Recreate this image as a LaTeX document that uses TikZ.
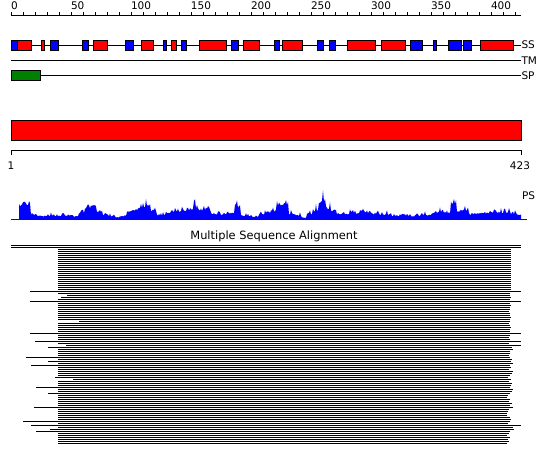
\documentclass[tikz,border=0pt]{standalone}
\usepackage{fontspec}
\setmainfont{DejaVu Sans}
\definecolor{ssred}{RGB}{255,0,0}
\definecolor{ssblue}{RGB}{0,0,255}
\definecolor{spgreen}{RGB}{0,128,0}
\begin{document}
\begin{tikzpicture}[x=1pt,y=-1pt,
  font=\fontsize{10.5}{12}\selectfont,
  lbl/.style={inner sep=0pt, outer sep=0pt},
  thin1/.style={line width=1pt, black},
  helix/.style={fill=ssred, draw=black, line width=1pt},
  strand/.style={fill=ssblue, draw=black, line width=1pt},
  msa/.style={line width=1pt, black}]
\useasboundingbox (0,0) rectangle (550,465);
\fill[white] (0,0) rectangle (550,465);

% top ruler
\draw[thin1] (11,15.5) -- (521,15.5);
\foreach \v in {0,10,...,420} \draw[thin1] ({11.5+1.2*\v},12.5) -- ({11.5+1.2*\v},15.5);
\foreach \v in {0,50,...,400} \node[lbl, anchor=base west] (r\v) at ({11+1.2*\v},10) {\v};

% SS track
\draw[thin1] (11,45.5) -- (521,45.5);
\foreach \a/\b/\c in {11/17/strand,17/31/helix,41/44/helix,50/58/strand,82/88/strand,93/107/helix,
  125/133/strand,141/153/helix,163/166/strand,171/176/helix,181/186/strand,199/226/helix,
  231/238/strand,243/259/helix,274/279/strand,282/302/helix,317/323/strand,329/335/strand,
  347/375/helix,381/405/helix,410/422/strand,433/436/strand,448/461/strand,463/471/strand,480/513/helix}
  \draw[\c] (\a,40.5) rectangle (\b,50.5);
\node[lbl, anchor=base west] (ss) at (521.5,49) {SS};

% TM track
\draw[thin1] (11,60.5) -- (521,60.5);
\node[lbl, anchor=base west] (tm) at (521.5,64.5) {TM};

% SP track
\draw[thin1] (11,75.5) -- (521,75.5);
\draw[fill=spgreen, draw=black, line width=1pt] (11,70.5) rectangle (40.5,80.5);
\node[lbl, anchor=base west] (sp) at (521.5,79.5) {SP};

% domain bar
\draw[fill=ssred, draw=black, line width=1pt] (11,120.5) rectangle (521,140.5);
\draw[thin1] (11,155) -- (11,150.5) -- (521,150.5) -- (521,155);
\node[lbl, anchor=base] (one) at (11,170) {1};
\node[lbl, anchor=base] (end) at (520,170) {423};

% PS profile
\pgfmathsetseed{11}
\def\env{{26,29,10,8,7,8,7,8,7,6,13,23,24,16,10,7,4,7,16,19,24,25,18,8,10,13,16,17,18,22,18,19,11,10,11,12,24,8,7,6,10,13,16,25,26,11,8,4,11,17,34,22,18,11,10,11,12,14,13,11,10,10,7,7,8,6,7,10,8,13,14,12,28,16,18,10,12,11,13,14,13,13,11,10}}
\fill[ssblue] (19,220) foreach \x in {19,...,521} { -- (\x,{220-\env[int((\x-19)/6)]*(0.5+0.5*rnd*rnd)}) } -- (521,220) -- cycle;
\draw[ssblue, line width=1pt] (11,219.5) -- (527,219.5);
\node[lbl, anchor=base west] (ps) at (522,200) {PS};

% MSA
\node[lbl, anchor=base, font=\fontsize{11.4}{13}\selectfont] (msatitle) at (274,240) {Multiple Sequence Alignment};
\foreach \l/\r [count=\i from 0] in {11/521, 11/521,
 58/511, 58/511, 58/511, 58/511, 58/511, 58/511, 58/511, 58/511, 58/511, 58/511, 58/511,
 58/511, 58/511, 58/511, 58/511, 58/511, 58/511, 58/511, 58/511, 58/511, 58/511,
 30/521,
 58/510, 67/510, 61/511, 58/510,
 30/521,
 58/510, 58/511, 58/510, 58/510, 58/509, 58/510, 58/510, 58/511, 58/510,
 79/510,
 58/509, 58/510, 58/511, 58/510, 58/510,
 30/521,
 58/510, 58/509, 58/510,
 35/521,
 58/509,
 66/521,
 48/512, 58/513, 58/510, 58/510, 58/509, 26/510, 58/512, 48/511, 58/513, 31/510,
 58/511, 58/509, 58/513, 58/512, 58/510, 55/508, 73/511, 58/509, 58/512, 58/511,
 36/510, 58/513, 58/512, 48/510, 58/508, 58/507, 58/510, 58/509, 58/512, 58/510,
 34/513, 58/509, 58/508, 58/507, 58/507, 58/510, 58/511, 23/510, 58/508,
 31/521,
 58/513, 50/514, 36/510, 58/509, 58/507, 58/510, 58/508, 58/509, 58/507}
  \draw[msa] (\l,{245.5+2*\i}) -- (\r,{245.5+2*\i});
\end{tikzpicture}
\end{document}
